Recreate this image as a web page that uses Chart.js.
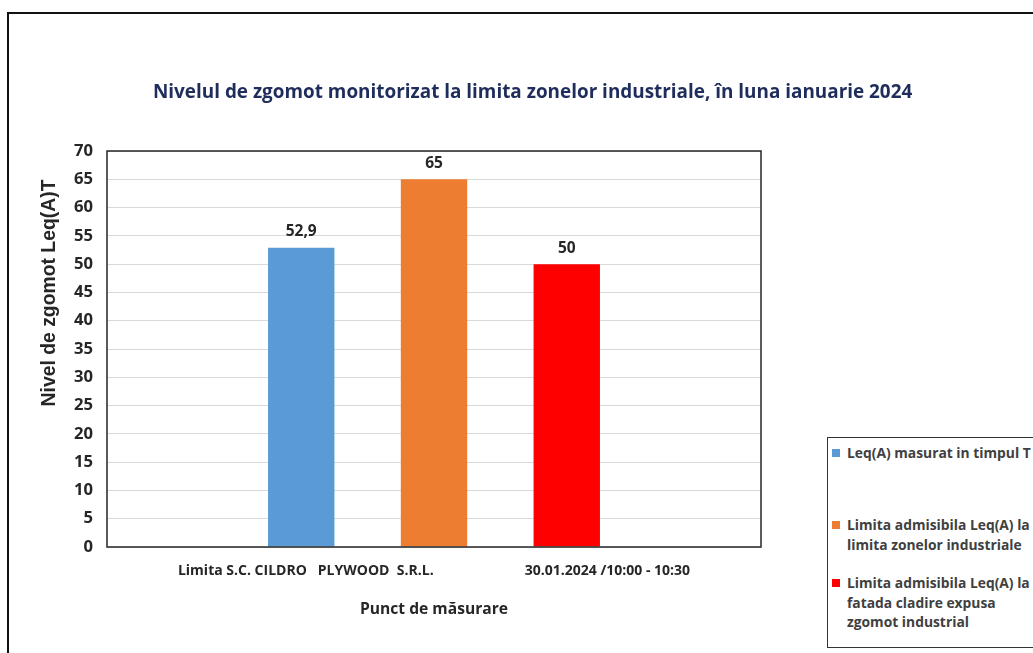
<!DOCTYPE html>
<html>
<head>
<meta charset="utf-8">
<script src="https://cdn.jsdelivr.net/npm/chart.js@4/dist/chart.umd.min.js"></script>
<style>
  html, body { margin: 0; padding: 0; background: #fff; }
  #wrap { position: relative; width: 1033px; height: 653px; overflow: hidden; }
  #frame { position: absolute; left: 7px; top: 12px; width: 1100px; height: 700px; border: 2px solid #111; }
  canvas { position: absolute; left: 0; top: 0; }
  #legend {
    position: absolute; left: 827px; top: 437px; width: 220px; height: 209px;
    border: 1px solid #333; background: #fff;
    font-family: "Open Sans", sans-serif; font-weight: bold; color: #404040;
    white-space: nowrap;
  }
  .item { position: absolute; left: 19px; line-height: 19.5px; }
  .sw { position: absolute; left: -15px; top: 6px; width: 8px; height: 8px; }
</style>
</head>
<body>
<div id="wrap">
  <div id="frame"></div>
  <canvas id="noiseChart" width="1033" height="653"></canvas>
  <div id="legend"></div>
</div>
<script>
const categoryParts = ['Limita S.C. CILDRO   PLYWOOD  S.R.L.', '30.01.2024 /10:00 - 10:30'];
const seriesNames = [
  ['Leq(A) masurat in timpul T'],
  ['Limita admisibila Leq(A) la', 'limita zonelor industriale'],
  ['Limita admisibila Leq(A) la', 'fatada cladire expusa', 'zgomot industrial']
];
const seriesValues = [[52.9], [65], [50]];
const seriesColors = ['#5B9BD5', '#ED7D31', '#FF0000'];
const yTicks = [0, 5, 10, 15, 20, 25, 30, 35, 40, 45, 50, 55, 60, 65, 70];

const chartTitle = 'Nivelul de zgomot monitorizat la limita zonelor industriale, în luna ianuarie 2024';
const yTitle = 'Nivel de zgomot Leq(A)T';
const xTitle = 'Punct de măsurare';

// pick font sizes so text widths match the picture
const mctx = document.createElement('canvas').getContext('2d');
function textW(text, size, family) {
    mctx.font = 'bold ' + size + 'px ' + family;
    return mctx.measureText(text).width;
}
function fit(text, family, target) {
    return 20 * target / textW(text, 20, family);
}
const OS = '"Open Sans"';
const titleSize = fit(chartTitle, OS, 760);
const yTitleSize = fit(yTitle, '"Liberation Sans"', 227);
const catSize = fit(categoryParts[0], OS, 256);
const xTitleSize = fit('Punct de măs', OS, 105);
const tickSize = fit('70', OS, 19);
const valSize = fit('52,9', OS, 31);
const legendSize = fit(seriesNames[0][0], OS, 184);

// one category label, parts spread with spaces
let catLabel = categoryParts[0] + ' ' + categoryParts[1];
while (textW(catLabel, catSize, OS) < 509) {
    catLabel = catLabel.replace(categoryParts[1], ' ' + categoryParts[1]);
}
const categories = [catLabel];

// extra text, frame and value labels
const extras = {
    id: 'extras',
    afterDraw(chart) {
        const ctx = chart.ctx;
        const a = chart.chartArea;
        ctx.save();

        ctx.strokeStyle = '#262626';
        ctx.lineWidth = 1.5;
        ctx.strokeRect(a.left, a.top, a.right - a.left, a.bottom - a.top);

        ctx.fillStyle = '#1F2D5C';
        ctx.font = 'bold ' + titleSize + 'px ' + OS;
        ctx.textAlign = 'left';
        ctx.textBaseline = 'middle';
        ctx.fillText(chartTitle, 153, 93);

        ctx.textAlign = 'center';
        ctx.fillStyle = '#262626';
        ctx.font = 'bold ' + valSize + 'px ' + OS;
        chart.data.datasets.forEach((ds, i) => {
            chart.getDatasetMeta(i).data.forEach((bar, j) => {
                ctx.fillText(String(ds.data[j]).replace('.', ','), bar.x, bar.y - 16);
            });
        });

        ctx.translate(50, 293);
        ctx.rotate(-Math.PI / 2);
        ctx.font = 'bold ' + yTitleSize + 'px "Liberation Sans"';
        ctx.fillText(yTitle, 0, 0);
        ctx.restore();
    }
};

const chart = new Chart(
    document.getElementById('noiseChart'),
    {
        type: 'bar',
        data: {
            labels: categories,
            datasets: seriesValues.map((vals, i) => ({
                label: seriesNames[i].join(' '),
                data: vals,
                backgroundColor: seriesColors[i],
                categoryPercentage: 0.609,
                barPercentage: 0.5
            }))
        },
        options: {
            responsive: false,
            animation: false,
            layout: { padding: { left: 0, top: 151, right: 272, bottom: 30 } },
            plugins: {
                legend: { display: false },
                title: { display: false },
                tooltip: { enabled: false }
            },
            scales: {
                x: {
                    grid: { display: false, drawTicks: false },
                    border: { display: false },
                    ticks: { padding: 16, color: '#262626', font: { family: 'Open Sans', size: catSize, weight: 'bold' } },
                    title: { display: true, text: xTitle, color: '#262626', font: { family: 'Open Sans', size: xTitleSize, weight: 'bold' }, padding: 4 },
                    afterFit(scale) { scale.height = 76; }
                },
                y: {
                    min: 0,
                    max: 70,
                    afterBuildTicks(scale) { scale.ticks = yTicks.map(v => ({ value: v })); },
                    grid: { color: '#D9D9D9', lineWidth: 1, drawTicks: false },
                    border: { display: false },
                    ticks: { padding: 14, color: '#262626', font: { family: 'Open Sans', size: tickSize, weight: 'bold' } },
                    afterFit(scale) { scale.width = 107; }
                }
            }
        },
        plugins: [extras]
    }
);

// legend with wrapped lines
const legendTops = [5, 77, 135];
const legend = document.getElementById('legend');
legend.style.fontSize = legendSize + 'px';
seriesNames.forEach((lines, i) => {
    const item = document.createElement('div');
    item.className = 'item';
    item.style.top = legendTops[i] + 'px';
    item.innerHTML = '<span class="sw" style="background:' + seriesColors[i] + '"></span>' + lines.join('<br>');
    legend.appendChild(item);
});
</script>
</body>
</html>
